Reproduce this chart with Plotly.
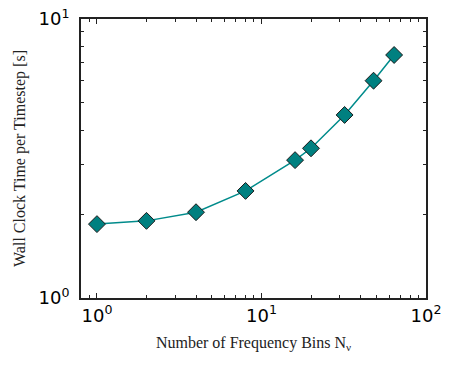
import plotly.graph_objects as go

# Frequency bins and measured wall clock time per timestep
n_bins = [1, 2, 4, 8, 16, 20, 32, 48, 64]
wall_time = [1.84, 1.89, 2.03, 2.42, 3.12, 3.44, 4.53, 6.01, 7.43]

x_tickvals = [1, 10, 100]
x_ticktext = ['10<sup>0</sup>', '10<sup>1</sup>', '10<sup>2</sup>']
y_tickvals = [1, 10]
y_ticktext = ['10<sup>0</sup>', '10<sup>1</sup>']
minor_vals = [m * 10 ** d for d in range(-1, 2) for m in range(2, 10)]

fig = go.Figure()

fig.add_trace(go.Scatter(
    x=n_bins, y=wall_time,
    mode='lines+markers',
    line=dict(color='#008b8b', width=1.5),
    marker=dict(symbol='diamond', size=13, color='#008080',
                line=dict(color='#1a1a1a', width=1)),
    showlegend=False,
))

axis_style = dict(
    type='log', automargin=False,
    showline=True, linecolor='#222222', linewidth=2, mirror='ticks',
    ticks='inside', ticklen=5, tickwidth=1, tickcolor='#222222',
    showgrid=False, zeroline=False,
    tickfont=dict(family='DejaVu Sans', size=18, color='black'),
    minor=dict(ticks='inside', ticklen=3, tickwidth=1, tickcolor='#222222',
               tickmode='array', tickvals=minor_vals, showgrid=False),
)

fig.update_layout(
    width=449, height=374,
    margin=dict(l=81, r=23, t=19, b=76),
    plot_bgcolor='white', paper_bgcolor='white',
    xaxis=dict(axis_style, range=[-0.097, 2],
               tickmode='array', tickvals=x_tickvals, ticktext=x_ticktext,
               title=dict(text='Number of Frequency Bins N<sub>ν</sub>',
                          font=dict(family='Liberation Serif', size=16, color='#222222'),
                          standoff=12)),
    yaxis=dict(axis_style, range=[0, 1], ticklabelstandoff=6,
               tickmode='array', tickvals=y_tickvals, ticktext=y_ticktext,
               title=dict(text='Wall Clock Time per Timestep [s]',
                          font=dict(family='Liberation Serif', size=16, color='#222222'),
                          standoff=9)),
)

# drop the default page margin so the figure fills the window
fig.write_html("out.html", config={'displayModeBar': False},
               post_script="document.body.style.margin = '0';")
